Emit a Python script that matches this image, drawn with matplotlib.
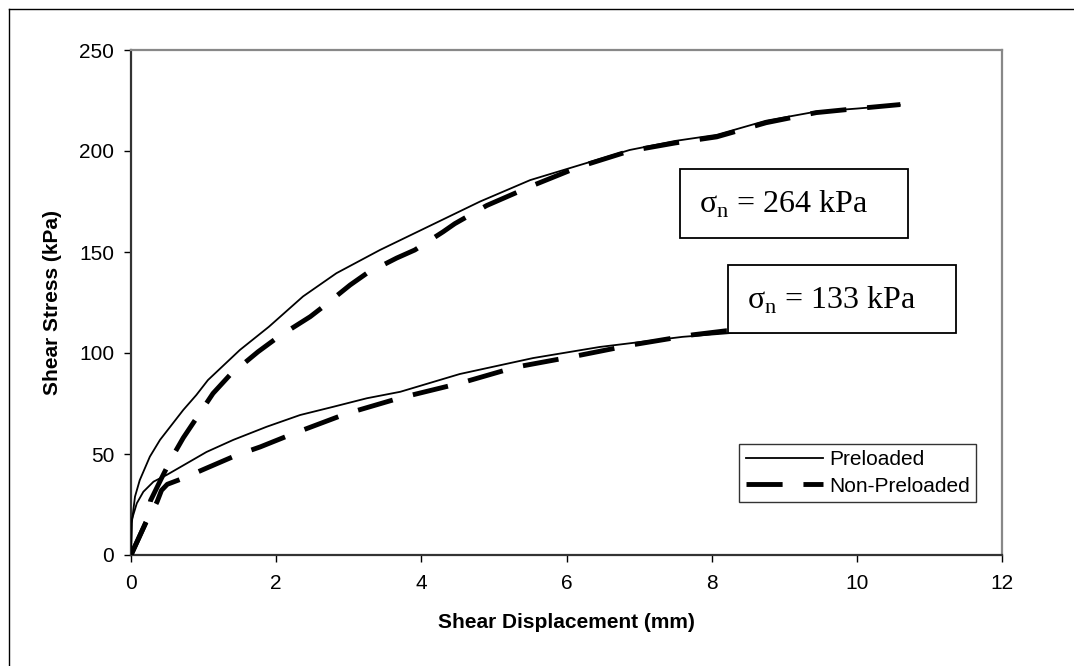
import matplotlib
matplotlib.use("Agg")
import matplotlib.pyplot as plt
from matplotlib.patches import Rectangle
from matplotlib.lines import Line2D

plt.rcParams['font.family'] = ['Liberation Sans', 'DejaVu Sans']
plt.rcParams['mathtext.fontset'] = 'custom'
plt.rcParams['mathtext.rm'] = 'Liberation Serif'

# ---------------- data ----------------
x_264_pre = [0, 0.01, 0.055, 0.12, 0.26, 0.40, 0.56, 0.72, 0.90, 1.06, 1.5, 1.9, 2.37, 2.83,
             3.43, 4.12, 4.81, 5.5, 6.18, 6.87, 7.5, 8.07, 8.75, 9.44, 10.0, 10.59]
y_264_pre = [0, 15.7, 28.9, 37, 48.7, 57, 64.4, 71.8, 79.2, 86.6, 101.5, 113, 128, 139.5,
             151, 163, 175, 185.6, 193, 200.5, 205, 208, 215, 219.5, 221, 222.8]

x_264_non = [0, 0.21, 0.27, 0.42, 0.56, 0.72, 1.13, 1.36, 1.75, 2.03, 2.47, 2.65, 3.02, 3.25,
             3.66, 3.91, 4.3, 4.46, 4.9, 5.54, 6.16, 6.87, 7.5, 8.07, 8.75, 9.44, 10.0, 10.6]
y_264_non = [0, 16.5, 27, 38, 48, 58, 80, 89, 100.6, 108, 118, 123, 133.7, 139.5,
             147, 151, 160, 164, 173, 183, 192, 200, 204, 207, 214, 219, 221, 223]

x_133_pre = [0, 0.01, 0.08, 0.17, 0.31, 0.49, 0.77, 1.04, 1.41, 1.87, 2.33, 2.79, 3.25, 3.71,
             4.53, 5.54, 6.46, 7.6, 8.3, 9.3]
y_133_pre = [0, 17.3, 25.6, 31.3, 36.3, 39.6, 45.4, 51, 57, 63.5, 69.3, 73.4, 77.6, 80.8,
             89.6, 97.5, 103, 108, 110, 110.5]

x_133_non = [0, 0.21, 0.3, 0.36, 0.42, 0.5, 0.72, 1.04, 1.46, 1.78, 2.23, 2.97, 3.7, 4.53,
             5.3, 6.13, 6.9, 7.74, 8.2, 9.3]
y_133_non = [0, 16.5, 22, 26.4, 32, 35, 38, 43, 49.5, 53.5, 60, 70, 77.7, 85,
             93, 98.5, 104, 109, 111, 111.5]

x_ticks = [0, 2, 4, 6, 8, 10, 12]
y_ticks = [0, 50, 100, 150, 200, 250]
series_labels = ['Preloaded', 'Non-Preloaded']
box_texts = ['σ$_{\\mathrm{n}}$ = 264 kPa', 'σ$_{\\mathrm{n}}$ = 133 kPa']

# ---------------- figure ----------------
W, H = 1074, 666
fig = plt.figure(figsize=(W / 100, H / 100), dpi=100)
ax = fig.add_axes([131 / W, 1 - 555 / H, (1002 - 131) / W, (555 - 50) / H])

# outer frame (top and left visible)
fig.add_artist(Line2D([9 / W, 9 / W], [0, 1 - 9 / H], transform=fig.transFigure,
                      color='black', lw=1.0))
fig.add_artist(Line2D([9 / W, 1], [1 - 9 / H, 1 - 9 / H], transform=fig.transFigure,
                      color='black', lw=1.0))

lw_solid = 1.3
lw_dash = 3.5
dash = (0, (26 / lw_dash, 15 / lw_dash))

ax.plot(x_264_pre, y_264_pre, color='black', lw=lw_solid, label=series_labels[0], zorder=3)
ax.plot(x_133_pre, y_133_pre, color='black', lw=lw_solid, zorder=3)
ax.plot(x_264_non, y_264_non, color='black', lw=lw_dash, linestyle=dash,
        dash_capstyle='butt', label=series_labels[1], zorder=3)
ax.plot(x_133_non, y_133_non, color='black', lw=lw_dash, linestyle=dash,
        dash_capstyle='butt', zorder=3)

ax.set_xlim(0, 12)
ax.set_ylim(0, 250)
ax.set_xticks(x_ticks)
ax.set_yticks(y_ticks)
ax.tick_params(axis='both', direction='out', length=5, width=1, color='black',
               labelsize=15, labelcolor='black')
ax.tick_params(axis='x', pad=9)
ax.tick_params(axis='y', pad=7)

for s in ['left', 'bottom']:
    ax.spines[s].set_color('#333333')
    ax.spines[s].set_linewidth(1.6)
for s in ['top', 'right']:
    ax.spines[s].set_color('#888888')
    ax.spines[s].set_linewidth(1.6)

ax.set_xlabel('Shear Displacement (mm)', fontsize=15, fontweight='bold', va='center')
ax.xaxis.set_label_coords(0.5, (555 - 623) / 505)
ax.set_ylabel('Shear Stress (kPa)', fontsize=15, fontweight='bold', va='center')
ax.yaxis.set_label_coords((53 - 131) / 871, 0.5)

# annotation boxes
boxes = [(7.56, 157, 10.70 - 7.56, 191 - 157), (8.22, 110, 11.36 - 8.22, 143.6 - 110)]
for (bx, by, bw, bh), txt in zip(boxes, box_texts):
    ax.add_patch(Rectangle((bx, by), bw, bh, facecolor='white', edgecolor='black',
                           lw=1.3, zorder=5))
    ax.text(bx + 0.27, by + bh / 2 - 0.5, txt, fontsize=23, family='Liberation Serif',
            va='center', ha='left', zorder=6)

leg = ax.legend(loc='lower right', bbox_to_anchor=(0.970, 0.105), borderaxespad=0,
                fontsize=15, frameon=True, fancybox=False, handlelength=3.7,
                handletextpad=0.3, labelspacing=0.35, borderpad=0.3)
leg.get_frame().set_edgecolor('black')
leg.get_frame().set_linewidth(1.0)

fig.savefig('out.png', dpi=100, facecolor='white')
